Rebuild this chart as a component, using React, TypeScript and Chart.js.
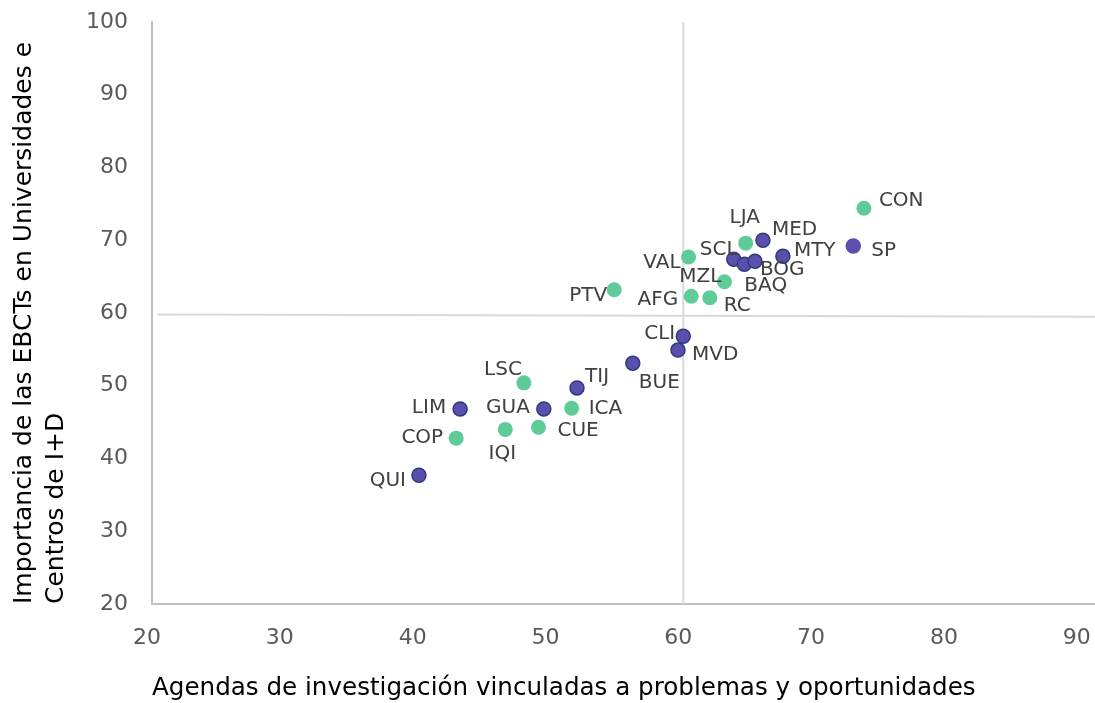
import React, { useEffect, useRef } from "react";
import { Chart, registerables } from "chart.js";

Chart.register(...registerables);

// Blue group
const blueNames = ["MED", "SCL", "BAQ", "BOG", "MTY", "SP", "CLI", "MVD", "BUE", "TIJ", "GUA", "LIM", "QUI"];
const blueX = [66.0, 63.8, 64.6, 65.4, 67.5, 72.8, 60.0, 59.6, 56.2, 52.0, 49.5, 43.2, 40.1];
const blueY = [70.0, 67.4, 66.7, 67.1, 67.8, 69.2, 56.8, 54.9, 53.1, 49.7, 46.8, 46.8, 37.7];

// Green group
const greenNames = ["CON", "LJA", "VAL", "MZL", "PTV", "AFG", "RC", "LSC", "ICA", "CUE", "IQI", "COP"];
const greenX = [73.6, 64.7, 60.4, 63.1, 54.8, 60.6, 62.0, 48.0, 51.6, 49.1, 46.6, 42.9];
const greenY = [74.4, 69.6, 67.7, 64.3, 63.2, 62.3, 62.1, 50.4, 46.9, 44.3, 44.0, 42.8];

// Reference lines
const vLineX = [60, 60];
const vLineY = [20, 100.4];
const hLineX = [20.4, 91];
const hLineY = [59.8, 59.5];

// Ticks
const xTicks = [20, 30, 40, 50, 60, 70, 80, 90];
const yTicks = [20, 30, 40, 50, 60, 70, 80, 90, 100];

const xTitle = "Agendas de investigación vinculadas a problemas y oportunidades";
const yTitle = ["Importancia de las EBCTs en Universidades e", "Centros de I+D"];

// Label placement (style, not data): [align, dx, dy]
const blueLabelPos: [string, number, number][] = [
  ["left", 9, -10], ["center", -15, -9], ["left", 0, 22], ["left", 5, 8], ["left", 11, -5],
  ["left", 18, 5], ["right", -8, -2], ["left", 14, 5], ["left", 6, 20], ["left", 8, -11],
  ["right", -14, -1], ["right", -14, -1], ["right", -13, 6],
];
const greenLabelPos: [string, number, number][] = [
  ["left", 15, -7], ["center", -1, -25], ["right", -8, 6], ["right", -3, -5], ["right", -7, 6],
  ["right", -13, 4], ["left", 14, 8], ["right", -2, -13], ["left", 17, 0], ["left", 19, 4],
  ["center", -3, 24], ["right", -13, 0],
];

const FONT = "'DejaVu Sans', sans-serif";

const labelPlugin = {
  id: "pointLabels",
  afterDatasetsDraw(chart: any) {
    const ctx = chart.ctx;
    ctx.save();
    ctx.font = `20px ${FONT}`;
    ctx.fillStyle = "#404040";
    ctx.textBaseline = "middle";
    const groups = [
      { idx: 0, names: blueNames, pos: blueLabelPos },
      { idx: 1, names: greenNames, pos: greenLabelPos },
    ];
    for (const g of groups) {
      const meta = chart.getDatasetMeta(g.idx);
      meta.data.forEach((el: any, i: number) => {
        const [align, dx, dy] = g.pos[i];
        ctx.textAlign = align;
        ctx.fillText(g.names[i], el.x + dx, el.y + dy);
      });
    }
    ctx.restore();
  },
};

export default function App() {
  const ref = useRef<HTMLCanvasElement>(null);
  useEffect(() => {
    if (!ref.current) return;
    const chart = new Chart(ref.current, {
      type: "scatter",
      data: {
        datasets: [
          {
            label: "Grupo A",
            data: blueX.map((x, i) => ({ x, y: blueY[i] })),
            backgroundColor: "#5a4fac",
            borderColor: blueNames.map((n) => (n === "SP" ? "#5a4fac" : "#2d3b7c")),
            borderWidth: 1.5,
            pointRadius: 7,
            order: 1,
          },
          {
            label: "Grupo B",
            data: greenX.map((x, i) => ({ x, y: greenY[i] })),
            backgroundColor: "#5ecb98",
            borderColor: "#5ecb98",
            borderWidth: 0,
            pointRadius: 7.5,
            order: 2,
          },
          {
            label: "vline",
            data: vLineX.map((x, i) => ({ x, y: vLineY[i] })),
            showLine: true,
            borderColor: "#d9d9d9",
            borderWidth: 2,
            pointRadius: 0,
            order: 5,
          },
          {
            label: "hline",
            data: hLineX.map((x, i) => ({ x, y: hLineY[i] })),
            showLine: true,
            borderColor: "#d9d9d9",
            borderWidth: 2,
            pointRadius: 0,
            order: 5,
          },
        ],
      },
      options: {
        animation: false,
        responsive: false,
        maintainAspectRatio: false,
        layout: { autoPadding: false, padding: { left: 0, top: 22, right: 0, bottom: 0 } },
        plugins: { legend: { display: false }, tooltip: { enabled: false } },
        scales: {
          x: {
            type: "linear",
            min: 20,
            max: 91,
            afterBuildTicks: (s: any) => {
              s.ticks = xTicks.map((v) => ({ value: v }));
            },
            afterFit: (s: any) => {
              s.height = 99;
              s.paddingLeft = 0;
              s.paddingRight = 0;
            },
            grid: { display: false, drawTicks: false },
            border: { display: true, color: "#bfbfbf", width: 2 },
            ticks: { color: "#595959", font: { family: FONT, size: 22 }, padding: 21, maxRotation: 0, labelOffset: -5 },
            title: {
              display: true,
              text: xTitle,
              align: "start",
              color: "#000000",
              font: { family: FONT, size: 24.6 },
              padding: { top: 0, bottom: 0 },
            },
          },
          y: {
            type: "linear",
            min: 20,
            max: 100,
            afterBuildTicks: (s: any) => {
              s.ticks = yTicks.map((v) => ({ value: v }));
            },
            afterFit: (s: any) => {
              s.width = 152;
              s.paddingTop = 0;
              s.paddingBottom = 0;
            },
            grid: { display: false, drawTicks: false },
            border: { display: true, color: "#bfbfbf", width: 2 },
            ticks: { color: "#595959", font: { family: FONT, size: 22 }, padding: 24 },
            title: {
              display: true,
              text: yTitle,
              align: "start",
              color: "#000000",
              font: { family: FONT, size: 25, lineHeight: 1.28 },
              padding: { top: 8, bottom: 0 },
            },
          },
        },
      },
      plugins: [labelPlugin],
    });
    return () => chart.destroy();
  }, []);
  return (
    <div style={{ position: "fixed", left: 0, top: 0, width: 1095, height: 703, background: "#fff" }}>
      <canvas ref={ref} width={1095} height={703} style={{ width: 1095, height: 703 }} />
    </div>
  );
}
